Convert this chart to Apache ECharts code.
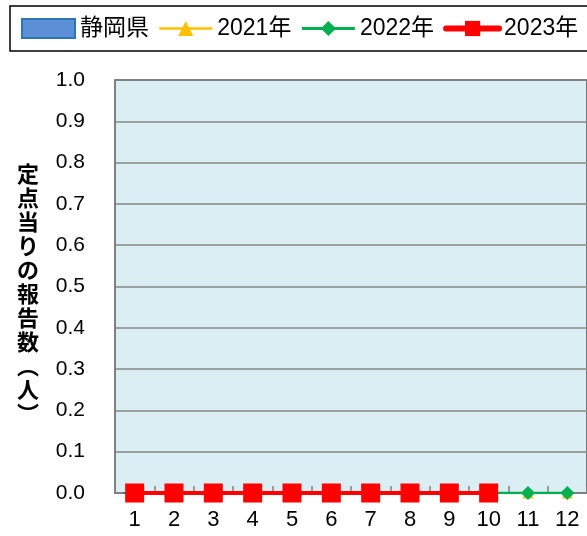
<!DOCTYPE html>
<html><head><meta charset="utf-8">
<script src="https://cdn.jsdelivr.net/npm/echarts@6/dist/echarts.min.js"></script>
<style>html,body{margin:0;padding:0;background:#fff}#c{width:587px;height:536px}</style>
</head><body><div id="c"></div>
<script>
const months = ['1','2','3','4','5','6','7','8','9','10','11','12'];
const yTicks = [0,0.1,0.2,0.3,0.4,0.5,0.6,0.7,0.8,0.9,1.0];
const shizuoka = [0,0,0,0,0,0,0,0,0,0];
const y2021 = [0,0,0,0,0,0,0,0,0,0,0,0];
const y2022 = [0,0,0,0,0,0,0,0,0,0,0,0];
const y2023 = [0,0,0,0,0,0,0,0,0,0];
const yTitle = '定点当りの報告数︵人︶';

const FONT = '"Liberation Sans", "Noto Sans CJK JP", sans-serif';
const chart = echarts.init(document.getElementById('c'), null, {renderer:'canvas'});
chart.setOption({
  animation: false,
  backgroundColor: '#fff',
  legend: {
    left: 10, top: 6, width: 640, padding: [11, 11],
    borderColor: '#000', borderWidth: 1.5,
    itemWidth: 53, itemHeight: 19, itemGap: 9,
    textStyle: {fontFamily: FONT, fontSize: 23, color: '#000'},
    data: [
      {name: '静岡県', icon: 'rect'},
      {name: '2021年', lineStyle: {width: 2.5}},
      {name: '2022年', lineStyle: {width: 3}},
      {name: '2023年', lineStyle: {width: 6, cap: 'round'}}
    ]
  },
  grid: {
    left: 115, top: 80, bottom: 43, right: -4,
    show: true, backgroundColor: '#DAEEF3', borderColor: '#000', borderWidth: 1
  },
  graphic: [{
    type: 'text', left: 17, top: 162,
    style: {
      text: yTitle.split('').join('\n'),
      font: 'bold 22px "Noto Sans CJK JP", sans-serif',
      lineHeight: 24, fill: '#000', align: 'center'
    }
  }],
  xAxis: {
    type: 'category', data: months, boundaryGap: true,
    axisLine: {lineStyle: {color: '#808080', width: 2}},
    axisTick: {show: true, inside: true, length: 7, lineStyle: {color: '#808080', width: 1.5}},
    axisLabel: {fontFamily: FONT, fontSize: 22, color: '#000', margin: 16}
  },
  yAxis: {
    type: 'value', min: yTicks[0], max: yTicks[yTicks.length-1], interval: 0.1,
    axisLine: {show: true, lineStyle: {color: '#808080', width: 2}},
    axisTick: {show: false},
    splitLine: {lineStyle: {color: '#868686', width: 1.5}},
    axisLabel: {fontFamily: FONT, fontSize: 21, color: '#000', margin: 30,
      formatter: v => v.toFixed(1)}
  },
  series: [
    {name: '静岡県', type: 'bar', data: shizuoka, barWidth: '60%',
     itemStyle: {color: '#5B8FD6', borderColor: '#2E75B6', borderWidth: 2}, z: 1},
    {name: '2021年', type: 'line', data: y2021, symbol: 'triangle', symbolSize: 11,
     lineStyle: {color: '#FFC000', width: 2}, itemStyle: {color: '#FFC000'}, z: 2},
    {name: '2022年', type: 'line', data: y2022, symbol: 'diamond', symbolSize: 14,
     lineStyle: {color: '#00B050', width: 2.5}, itemStyle: {color: '#00B050'}, z: 3},
    {name: '2023年', type: 'line', data: y2023, symbol: 'rect', symbolSize: 19,
     lineStyle: {color: '#FF0000', width: 4}, itemStyle: {color: '#FF0000'}, z: 4}
  ]
});
</script></body></html>
